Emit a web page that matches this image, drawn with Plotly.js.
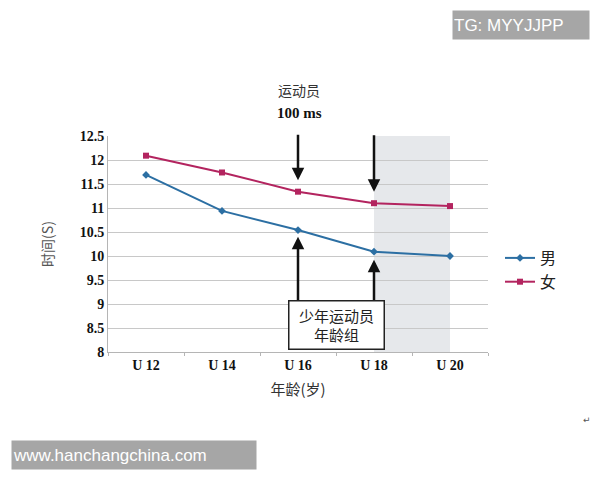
<!DOCTYPE html>
<html>
<head>
<meta charset="utf-8">
<script src="https://cdn.plot.ly/plotly-3.0.1.min.js"></script>
<style>
  html, body { margin: 0; padding: 0; background: #fff; }
  #chart { width: 600px; height: 480px; }
</style>
</head>
<body>
<div id="chart"></div>
<script>
"use strict";

const ageGroups = ["U 12", "U 14", "U 16", "U 18", "U 20"];
const maleTimes = [11.69, 10.94, 10.54, 10.09, 10.0];
const femaleTimes = [12.09, 11.74, 11.34, 11.1, 11.04];
const seriesNames = ["男", "女"];

// plot area in pixels: x 108..488, y 136..352
const px = (x) => (x - 108) / 380;
const py = (y) => (352 - y) / 216;

const cjk = "Noto Sans CJK SC, sans-serif";
const serif = "Liberation Serif, DejaVu Serif, serif";

const traces = [
    {
        type: "scatter",
        mode: "lines+markers",
        name: seriesNames[0],
        x: ageGroups,
        y: maleTimes,
        line: { color: "#2c6fa3", width: 2 },
        marker: { symbol: "diamond", size: 6, color: "#2c6fa3" },
    },
    {
        type: "scatter",
        mode: "lines+markers",
        name: seriesNames[1],
        x: ageGroups,
        y: femaleTimes,
        line: { color: "#b3245f", width: 2 },
        marker: { symbol: "square", size: 6, color: "#b3245f" },
    },
];

const arrow = (x, y, ay) => ({
    x: x,
    y: y,
    xref: "x",
    yref: "y",
    ax: 0,
    ay: ay,
    showarrow: true,
    arrowhead: 2,
    arrowsize: 1,
    arrowwidth: 2.5,
    arrowcolor: "#111",
    text: "",
});

// text placed by pixel centre
const label = (x, y, text, font, extra) => Object.assign({
    xref: "paper",
    yref: "paper",
    x: px(x),
    y: py(y),
    xanchor: "center",
    yanchor: "middle",
    text: text,
    showarrow: false,
    font: font,
}, extra || {});

const markFont = { family: "Liberation Sans, Arial, sans-serif", size: 17, color: "#fff" };

const annotations = [
    arrow(ageGroups[2], 11.58, -47),
    arrow(ageGroups[3], 11.34, -58),
    arrow(ageGroups[2], 10.4, 66),
    arrow(ageGroups[3], 9.92, 43),
    label(336, 325, "少年运动员<br>年龄组",
        { family: cjk, size: 15, color: "#222" },
        { bgcolor: "#fff", bordercolor: "#222", borderwidth: 1.5, borderpad: 3, width: 88 }),
    label(299, 90, "运动员", { family: cjk, size: 14, color: "#333" }),
    label(299, 113, "<b>100 ms</b>", { family: serif, size: 15, color: "#111" }),
    label(521, 25, "TG: MYYJJPP", markFont,
        { bgcolor: "#a6a6a6", width: 134, height: 26, align: "left" }),
    label(134, 455, "www.hanchangchina.com", markFont,
        { bgcolor: "#a6a6a6", width: 242, height: 26, align: "left" }),
    label(587, 420, "↵", { family: "DejaVu Sans, sans-serif", size: 9, color: "#555" }),
];

const layout = {
    width: 600,
    height: 480,
    margin: { l: 108, r: 112, t: 136, b: 128 },
    paper_bgcolor: "#fff",
    plot_bgcolor: "#fff",
    showlegend: true,
    legend: {
        x: px(500),
        y: py(270),
        yanchor: "middle",
        xanchor: "left",
        font: { family: cjk, size: 16, color: "#222" },
        tracegroupgap: 0,
        itemwidth: 30,
    },
    xaxis: {
        type: "category",
        range: [-0.5, 4.5],
        showgrid: false,
        showline: true,
        linecolor: "#b5b5b5",
        ticks: "outside",
        tickson: "boundaries",
        ticklen: 3,
        tickcolor: "#b5b5b5",
        tickfont: { family: serif, size: 14, color: "#111", weight: "bold" },
        title: {
            text: "年龄(岁)",
            font: { family: cjk, size: 15, color: "#333" },
            standoff: 12,
        },
        fixedrange: true,
    },
    yaxis: {
        range: [8, 12.5],
        dtick: 0.5,
        showgrid: true,
        gridcolor: "#c8c8c8",
        showline: true,
        linecolor: "#b5b5b5",
        zeroline: false,
        ticks: "",
        tickfont: { family: serif, size: 14, color: "#111", weight: "bold" },
        title: {
            text: "时间(S)",
            font: { family: cjk, size: 14, color: "#555" },
            standoff: 22,
        },
        fixedrange: true,
    },
    shapes: [
        {
            type: "rect",
            xref: "x",
            yref: "paper",
            x0: ageGroups[3],
            x1: ageGroups[4],
            y0: 0,
            y1: 1,
            fillcolor: "#e6e8eb",
            line: { width: 0 },
            layer: "below",
        },
    ],
    annotations: annotations,
};

Plotly.newPlot("chart", traces, layout, { displayModeBar: false, staticPlot: true });
</script>
</body>
</html>
